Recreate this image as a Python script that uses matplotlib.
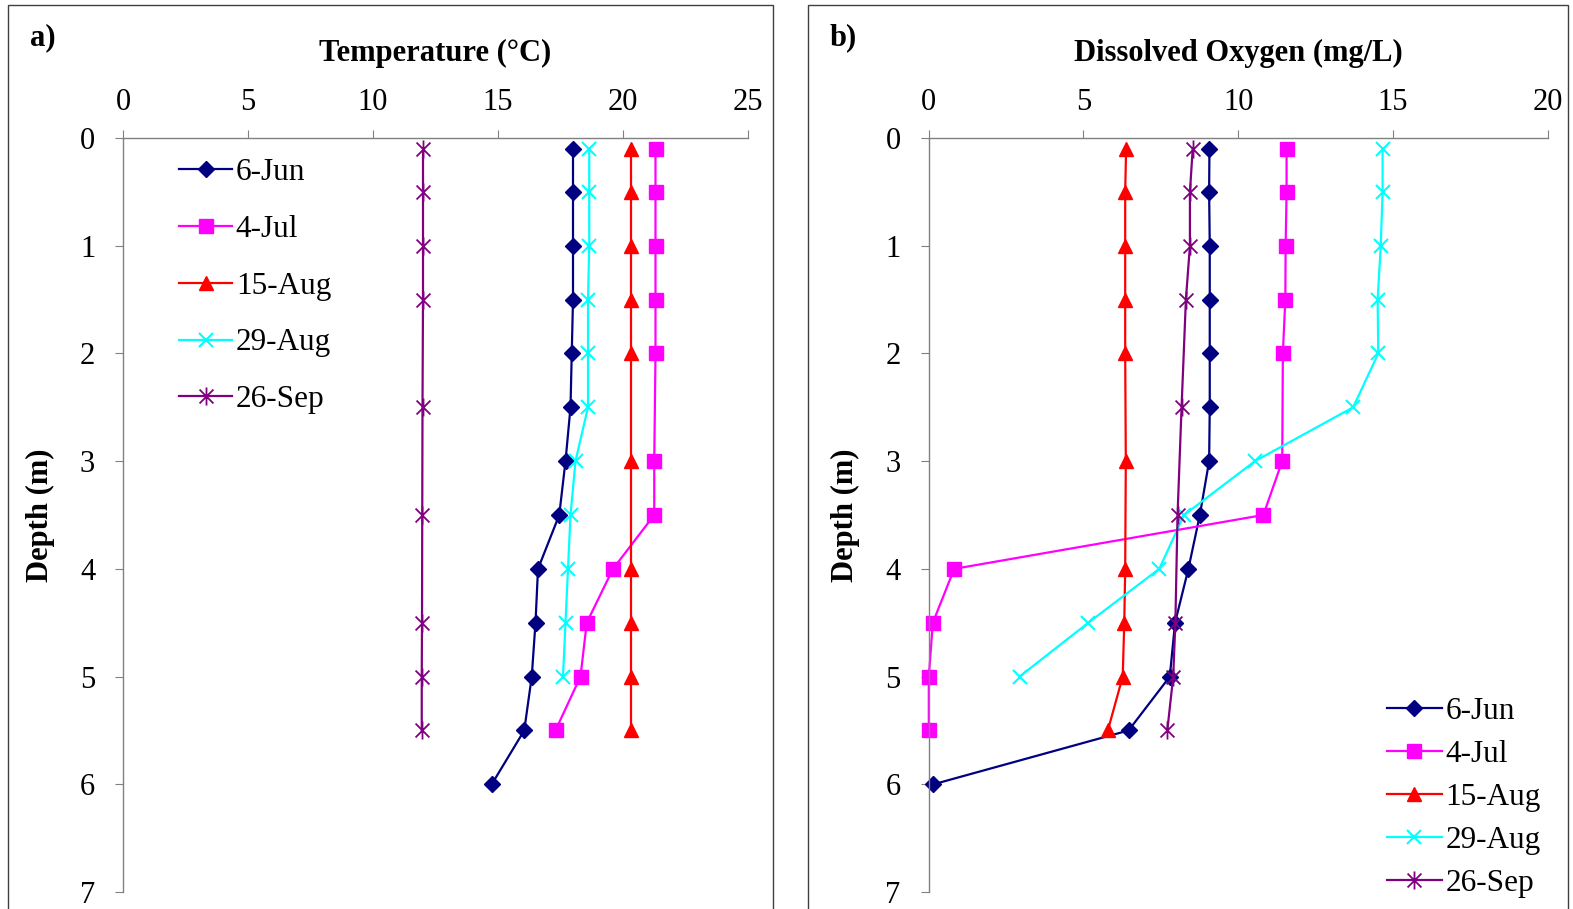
import matplotlib.pyplot as plt
import numpy as np
from matplotlib.path import Path
from matplotlib.patches import Rectangle

plt.rcParams['font.family'] = ['Liberation Serif', 'DejaVu Serif']

# depths (m) for each survey
d_jun6 = [0.1, 0.5, 1, 1.5, 2, 2.5, 3, 3.5, 4, 4.5, 5, 5.5, 6]
d_jul4 = [0.1, 0.5, 1, 1.5, 2, 3, 3.5, 4, 4.5, 5, 5.5]
d_aug15 = [0.1, 0.5, 1, 1.5, 2, 3, 4, 4.5, 5, 5.5]
d_aug29 = [0.1, 0.5, 1, 1.5, 2, 2.5, 3, 3.5, 4, 4.5, 5]
d_sep26 = [0.1, 0.5, 1, 1.5, 2.5, 3.5, 4.5, 5, 5.5]

# temperature (deg C)
t_jun6 = [18.0, 18.0, 18.0, 18.0, 17.95, 17.9, 17.7, 17.45, 16.6, 16.5, 16.35, 16.05, 14.75]
t_jul4 = [21.3, 21.3, 21.3, 21.3, 21.3, 21.25, 21.25, 19.6, 18.55, 18.3, 17.3]
t_aug15 = [20.3, 20.3, 20.3, 20.3, 20.3, 20.3, 20.3, 20.3, 20.3, 20.3]
t_aug29 = [18.65, 18.65, 18.65, 18.6, 18.6, 18.6, 18.1, 17.9, 17.8, 17.7, 17.6]
t_sep26 = [12.0, 12.0, 12.0, 12.0, 11.98, 11.97, 11.96, 11.95, 11.95]

# dissolved oxygen (mg/L)
o_jun6 = [9.07, 9.06, 9.08, 9.08, 9.08, 9.08, 9.06, 8.76, 8.39, 7.96, 7.79, 6.46, 0.16]
o_jul4 = [11.56, 11.56, 11.53, 11.52, 11.44, 11.42, 10.81, 0.83, 0.14, 0.01, 0.01]
o_aug15 = [6.38, 6.35, 6.35, 6.35, 6.35, 6.37, 6.35, 6.32, 6.27, 5.79]
o_aug29 = [14.66, 14.66, 14.6, 14.5, 14.52, 13.71, 10.54, 8.25, 7.45, 5.16, 2.94]
o_sep26 = [8.53, 8.44, 8.44, 8.31, 8.17, 8.04, 7.97, 7.9, 7.71]

labels = ['6-Jun', '4-Jul', '15-Aug', '29-Aug', '26-Sep']
depths = [d_jun6, d_jul4, d_aug15, d_aug29, d_sep26]
temps = [t_jun6, t_jul4, t_aug15, t_aug29, t_sep26]
oxys = [o_jun6, o_jul4, o_aug15, o_aug29, o_sep26]

# asterisk marker like excel's star
star = Path([(-1, -1), (1, 1), (-1, 1), (1, -1), (0, -1.3), (0, 1.3)],
            [Path.MOVETO, Path.LINETO, Path.MOVETO, Path.LINETO, Path.MOVETO, Path.LINETO])

styles = [
    dict(color='#000080', marker='D', ms=8),
    dict(color='#FF00FF', marker='s', ms=10.5),
    dict(color='#FF0000', marker='^', ms=10.5),
    dict(color='#00FFFF', marker='x', ms=10, mew=1.5),
    dict(color='#800080', marker=star, ms=13, mew=1.3, mfc='none'),
]

W, H = 1573, 909
fig = plt.figure(figsize=(W / 100, H / 100), dpi=100)

# panel frames
for x0, x1 in [(8, 773), (808, 1568)]:
    fig.patches.append(Rectangle((x0 / W, -0.05), (x1 - x0) / W, (H - 5) / H + 0.05,
                                 transform=fig.transFigure, fill=False,
                                 edgecolor='#404040', lw=1))


def setup(ax, xmax, title):
    ax.set_xlim(0, xmax)
    ax.set_ylim(7, 0)
    ax.xaxis.tick_top()
    ax.spines['right'].set_visible(False)
    ax.spines['bottom'].set_visible(False)
    for s in ['top', 'left']:
        ax.spines[s].set_color('#808080')
        ax.spines[s].set_linewidth(1)
    ax.tick_params(axis='x', direction='out', length=6, color='#808080',
                   labelsize=22, pad=9)
    ax.tick_params(axis='y', direction='out', length=6, color='#808080',
                   labelsize=22, pad=14)
    ax.set_yticks(range(0, 8))
    ax.set_ylabel('Depth (m)', fontsize=22, fontweight='bold', labelpad=18)
    ax.patch.set_alpha(0)
    bb = ax.get_position()
    fig.text((bb.x0 + bb.x1) / 2, 1 - 53 / H, title, fontsize=22,
             fontweight='bold', ha='center', va='center')


# temperature panel
ax1 = fig.add_axes([123 / W, 17 / H, 625 / W, 754 / H])
for d, v, lab, st in zip(depths, temps, labels, styles):
    ax1.plot(v, d, lw=1.6, label=lab, clip_on=False, **st)
setup(ax1, 25, 'Temperature (°C)')
ax1.set_xticks(range(0, 30, 5))
ax1.legend(loc='upper left', bbox_to_anchor=(179 / W, 1 - 158 / H),
           bbox_transform=fig.transFigure, frameon=False, fontsize=22.5,
           labelspacing=0.89, handlelength=1.7, handletextpad=0.12,
           borderpad=0, borderaxespad=0)
fig.text(30 / W, 1 - 38 / H, 'a)', fontsize=22, fontweight='bold', va='center')

# dissolved oxygen panel
ax2 = fig.add_axes([928.5 / W, 17 / H, 619.5 / W, 754 / H])
for d, v, lab, st in zip(depths, oxys, labels, styles):
    ax2.plot(v, d, lw=1.6, label=lab, clip_on=False, **st)
setup(ax2, 20, 'Dissolved Oxygen (mg/L)')
ax2.set_xticks(range(0, 25, 5))
ax2.legend(loc='lower left', bbox_to_anchor=(1387 / W, 1 - 898 / H),
           bbox_transform=fig.transFigure, frameon=False, fontsize=22.5,
           labelspacing=0.45, handlelength=1.75, handletextpad=0.12,
           borderpad=0, borderaxespad=0)
fig.text(830 / W, 1 - 38 / H, 'b)', fontsize=22, fontweight='bold', va='center')

fig.savefig('out.png', dpi=100)
